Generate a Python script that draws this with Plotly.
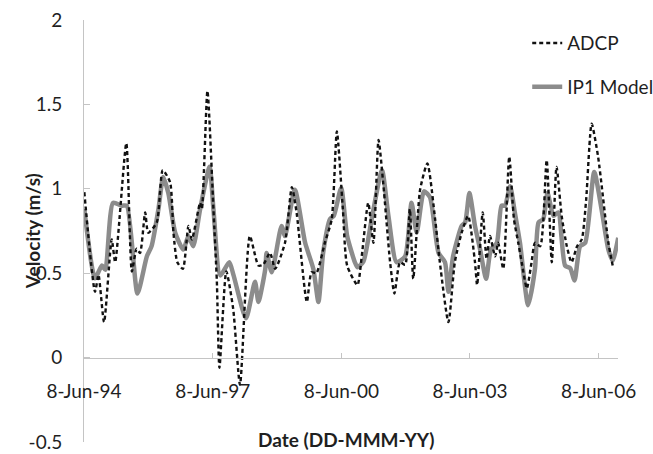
import plotly.graph_objects as go
import pandas as pd

# Decimal-year positions and velocities
adcp_t = [1994.44, 1994.69, 1994.77, 1994.90, 1995.08, 1995.16, 1995.42, 1995.55, 1995.66, 1995.74,
          1995.86, 1995.93, 1996.13, 1996.27, 1996.44, 1996.52, 1996.61, 1996.74, 1996.87, 1996.95,
          1997.14, 1997.18, 1997.31, 1997.45, 1997.53, 1997.59, 1997.75, 1997.91, 1998.07, 1998.30,
          1998.50, 1998.61, 1998.77, 1998.89, 1999.12, 1999.28, 1999.39, 1999.63, 1999.74, 1999.85,
          2000.05, 2000.21, 2000.33, 2000.47, 2000.57, 2000.81, 2000.91, 2001.06, 2001.18, 2001.30,
          2001.41, 2001.57, 2001.67, 2001.80, 2001.92, 2002.03, 2002.11, 2002.27, 2002.44, 2002.62,
          2002.73, 2002.93, 2003.08, 2003.24, 2003.39, 2003.55, 2003.60, 2003.73, 2003.82, 2003.90,
          2004.02, 2004.09, 2004.21, 2004.35, 2004.46, 2004.56, 2004.64, 2004.76, 2004.87, 2004.95,
          2005.07, 2005.22, 2005.34, 2005.45, 2005.57, 2005.69, 2005.80, 2005.93, 2006.04, 2006.14,
          2006.27, 2006.42, 2006.66, 2006.76]
adcp_v = [0.98, 0.39, 0.49, 0.21, 0.70, 0.565, 1.27, 0.51, 0.645, 0.62,
          0.86, 0.74, 0.80, 1.11, 1.04, 0.74, 0.565, 0.526, 0.78, 0.70,
          0.917, 0.88, 1.58, 0.88, 0.45, -0.06, 0.51, 0.29, -0.16, 0.72,
          0.545, 0.55, 0.62, 0.526, 0.68, 1.01, 0.86, 0.33, 0.506, 0.50,
          0.68, 0.82, 1.34, 0.88, 0.545, 0.43, 0.60, 0.917, 0.68, 1.29,
          1.03, 0.565, 0.38, 0.565, 0.55, 0.88, 0.467, 0.995, 1.15, 0.82,
          0.565, 0.21, 0.565, 0.74, 0.84, 0.565, 0.43, 0.86, 0.585, 0.72,
          0.60, 0.68, 0.526, 1.19, 0.82, 0.68, 0.565, 0.41, 0.565, 0.68,
          0.66, 1.17, 0.565, 1.13, 0.84, 0.66, 0.565, 0.66, 0.70, 0.93,
          1.385, 1.19, 0.68, 0.545]

ip1_t = [1994.44, 1994.69, 1994.85, 1994.93, 1995.11, 1995.31, 1995.43, 1995.68, 1995.90, 1996.01,
         1996.17, 1996.28, 1996.40, 1996.56, 1996.75, 1996.87, 1996.98, 1997.14, 1997.36, 1997.45,
         1997.61, 1997.82, 1997.92, 1998.21, 1998.42, 1998.50, 1998.66, 1998.69, 1998.81, 1999.04,
         1999.12, 1999.35, 1999.59, 1999.78, 1999.90, 2000.01, 2000.17, 2000.26, 2000.43, 2000.57,
         2000.75, 2000.81, 2000.95, 2001.14, 2001.38, 2001.53, 2001.72, 2001.92, 2002.07, 2002.19,
         2002.36, 2002.50, 2002.70, 2002.85, 2002.93, 2003.04, 2003.24, 2003.32, 2003.42, 2003.55,
         2003.67, 2003.81, 2003.92, 2004.06, 2004.17, 2004.25, 2004.37, 2004.48, 2004.60, 2004.79,
         2004.95, 2005.03, 2005.14, 2005.24, 2005.38, 2005.49, 2005.65, 2005.77, 2005.87, 2006.00,
         2006.12, 2006.33, 2006.50, 2006.66, 2006.76, 2006.89]
ip1_v = [0.88, 0.47, 0.545, 0.52, 0.917, 0.90, 0.90, 0.38, 0.60, 0.66,
         0.88, 1.07, 0.975, 0.74, 0.64, 0.72, 0.66, 0.88, 1.13, 0.88,
         0.487, 0.565, 0.487, 0.233, 0.45, 0.33, 0.526, 0.62, 0.506, 0.78,
         0.72, 0.995, 0.68, 0.526, 0.33, 0.62, 0.82, 0.84, 1.005, 0.72,
         0.565, 0.535, 0.57, 0.82, 1.11, 0.84, 0.565, 0.60, 0.917, 0.74,
         0.985, 0.95, 0.62, 0.565, 0.39, 0.60, 0.78, 0.80, 0.975, 0.78,
         0.64, 0.467, 0.64, 0.68, 0.90, 0.90, 1.015, 0.86, 0.68, 0.31,
         0.526, 0.80, 0.82, 0.975, 0.84, 0.86, 0.545, 0.53, 0.457, 0.66,
         0.68, 1.10, 0.88, 0.64, 0.575, 0.71]

tick_dates = ["1994-06-08", "1997-06-08", "2000-06-08", "2003-06-08", "2006-06-08"]
tick_labels = ["8-Jun-94", "8-Jun-97", "8-Jun-00", "8-Jun-03", "8-Jun-06"]
y_ticks = [-0.5, 0, 0.5, 1, 1.5, 2]
y_labels = ["-0.5", "0", "0.5", "1", "1.5", "2"]


def to_dates(years):
    out = []
    for y in years:
        yr = int(y)
        start = pd.Timestamp(year=yr, month=1, day=1)
        out.append(start + pd.Timedelta(days=(y - yr) * 365.25))
    return out


FONT = "Lato, 'Open Sans', sans-serif"
AX = "#c4c4c4"
TXT = "#1f1f1f"

fig = go.Figure()
fig.add_trace(go.Scatter(x=to_dates(ip1_t), y=ip1_v, mode="lines", name="IP1 Model",
                         line=dict(color="#8c8c8c", width=4.5, shape="spline", smoothing=0.6),
                         legendgroup="b", legendrank=2))
fig.add_trace(go.Scatter(x=to_dates(adcp_t), y=adcp_v, mode="lines", name="ADCP",
                         line=dict(color="#111111", width=2.4, dash="4px,3px",
                                   shape="spline", smoothing=0.6),
                         legendgroup="a", legendrank=1))

fig.update_layout(
    width=653, height=454,
    margin=dict(l=84, r=35, t=20, b=12, autoexpand=False),
    paper_bgcolor="white", plot_bgcolor="white",
    font=dict(family=FONT, size=19, color=TXT),
    showlegend=True,
    legend=dict(x=0.83, y=0.99, xanchor="left", yanchor="top", traceorder="grouped",
                tracegroupgap=16, font=dict(size=19, color=TXT),
                bgcolor="rgba(0,0,0,0)", itemwidth=30),
    xaxis=dict(range=["1994-06-08", "2006-11-20"], tickvals=tick_dates, ticktext=tick_labels,
               anchor="free", position=0.2, showline=True, linecolor=AX, linewidth=1,
               ticks="inside", ticklen=5, tickcolor=AX, showgrid=False, zeroline=False,
               ticklabelstandoff=17, ticklabeloverflow="allow", automargin=False,
               tickfont=dict(size=19)),
    yaxis=dict(range=[-0.5, 2], tickvals=y_ticks, ticktext=y_labels,
               showline=True, linecolor=AX, linewidth=1, ticks="inside", ticklen=6,
               tickcolor=AX, showgrid=False, zeroline=False, ticklabelstandoff=17,
               ticklabeloverflow="allow", automargin=False, tickfont=dict(size=19)),
    annotations=[
        dict(text="<b>Date (DD-MMM-YY)</b>", xref="paper", yref="paper", x=0.49, y=-0.025,
             xanchor="center", yanchor="bottom", showarrow=False, font=dict(size=19)),
        dict(text="<b>Velocity (m/s)</b>", xref="paper", yref="paper", x=-0.097, y=0.5,
             xanchor="center", yanchor="middle", textangle=-90, showarrow=False,
             font=dict(size=19)),
    ],
)

fig.write_html("out.html")
